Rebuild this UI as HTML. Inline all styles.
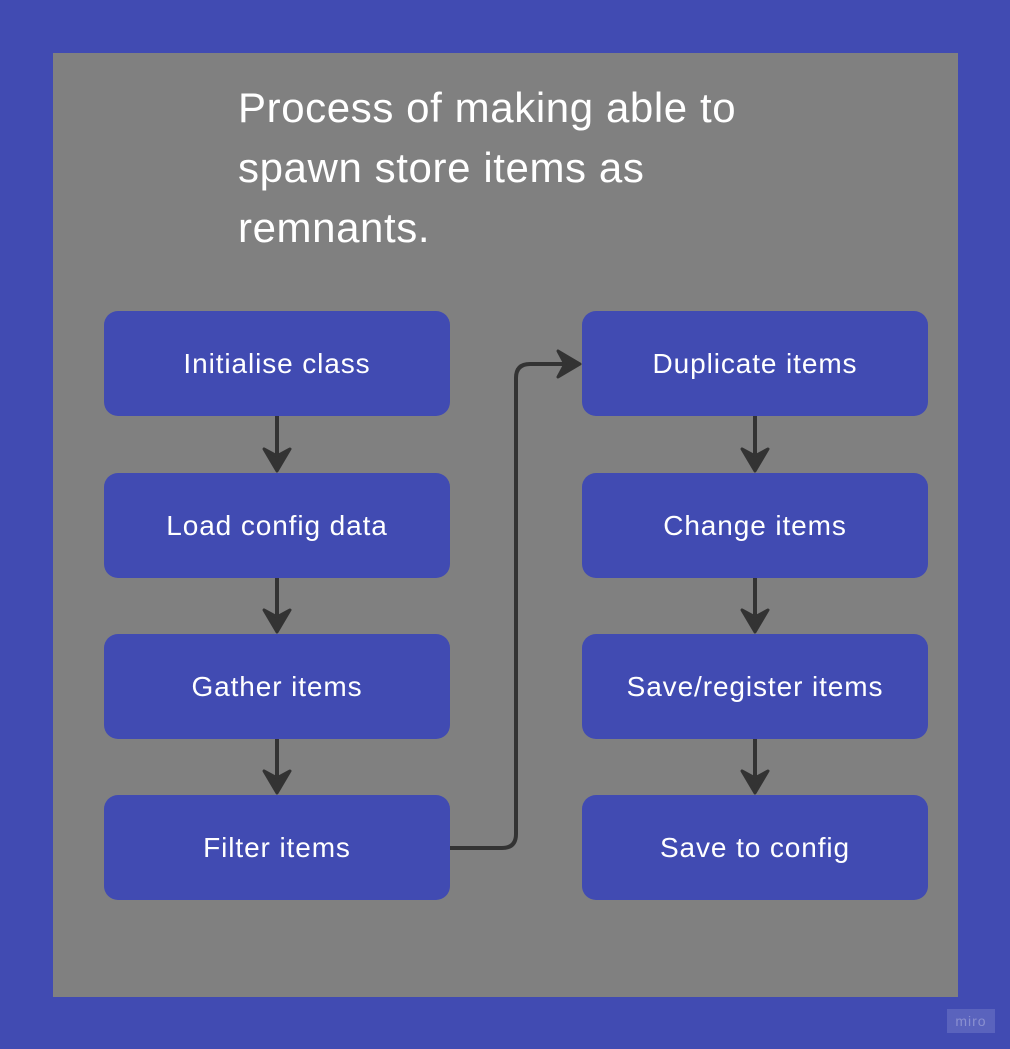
<!DOCTYPE html>
<html><head><style>
body{margin:0;width:1010px;height:1049px;background:#414bb2;position:relative;overflow:hidden;font-family:"Liberation Sans",sans-serif}
#p{position:absolute;left:53px;top:53px;width:905px;height:944px;background:#808080}
.t{position:absolute;left:238px;top:78px;color:#fff;font-size:42px;letter-spacing:0.6px;line-height:60px}
.b{position:absolute;width:346px;height:105px;background:#414bb2;border-radius:14px;color:#fff;font-size:28px;letter-spacing:0.9px;display:flex;align-items:center;justify-content:center}
.m{position:absolute;left:947px;top:1009px;width:48px;height:24px;background:#5a63bd;color:#8a90d0;font-size:14px;text-align:center;line-height:24px;letter-spacing:1px}
</style></head><body>
<div id="p"></div>
<div class="t">Process of making able to<br>spawn store items as<br>remnants.</div>
<div class="b" style="left:104px;top:311px">Initialise class</div>
<div class="b" style="left:104px;top:473px">Load config data</div>
<div class="b" style="left:104px;top:634px">Gather items</div>
<div class="b" style="left:104px;top:795px">Filter items</div>
<div class="b" style="left:582px;top:311px">Duplicate items</div>
<div class="b" style="left:582px;top:473px">Change items</div>
<div class="b" style="left:582px;top:634px">Save/register items</div>
<div class="b" style="left:582px;top:795px">Save to config</div>
<svg width="1010" height="1049" style="position:absolute;left:0;top:0">
<g stroke="#333" stroke-width="4" fill="none">
<path d="M277 416V462"/><path d="M277 578V623"/><path d="M277 739V784"/>
<path d="M755 416V462"/><path d="M755 578V623"/><path d="M755 739V784"/>
<path d="M450 848H502Q516 848 516 834V378Q516 364 530 364H572"/>
</g>
<g fill="#333" stroke="#333" stroke-width="3" stroke-linejoin="round">
<path d="M264 449 L277 471 L290 449 L277 456 Z"/>
<path d="M264 610 L277 632 L290 610 L277 617 Z"/>
<path d="M264 771 L277 793 L290 771 L277 778 Z"/>
<path d="M742 449 L755 471 L768 449 L755 456 Z"/>
<path d="M742 610 L755 632 L768 610 L755 617 Z"/>
<path d="M742 771 L755 793 L768 771 L755 778 Z"/>
<path d="M580 364 L558 351 L565 364 L558 377 Z"/>
</g></svg>
<div class="m">miro</div>
</body></html>
